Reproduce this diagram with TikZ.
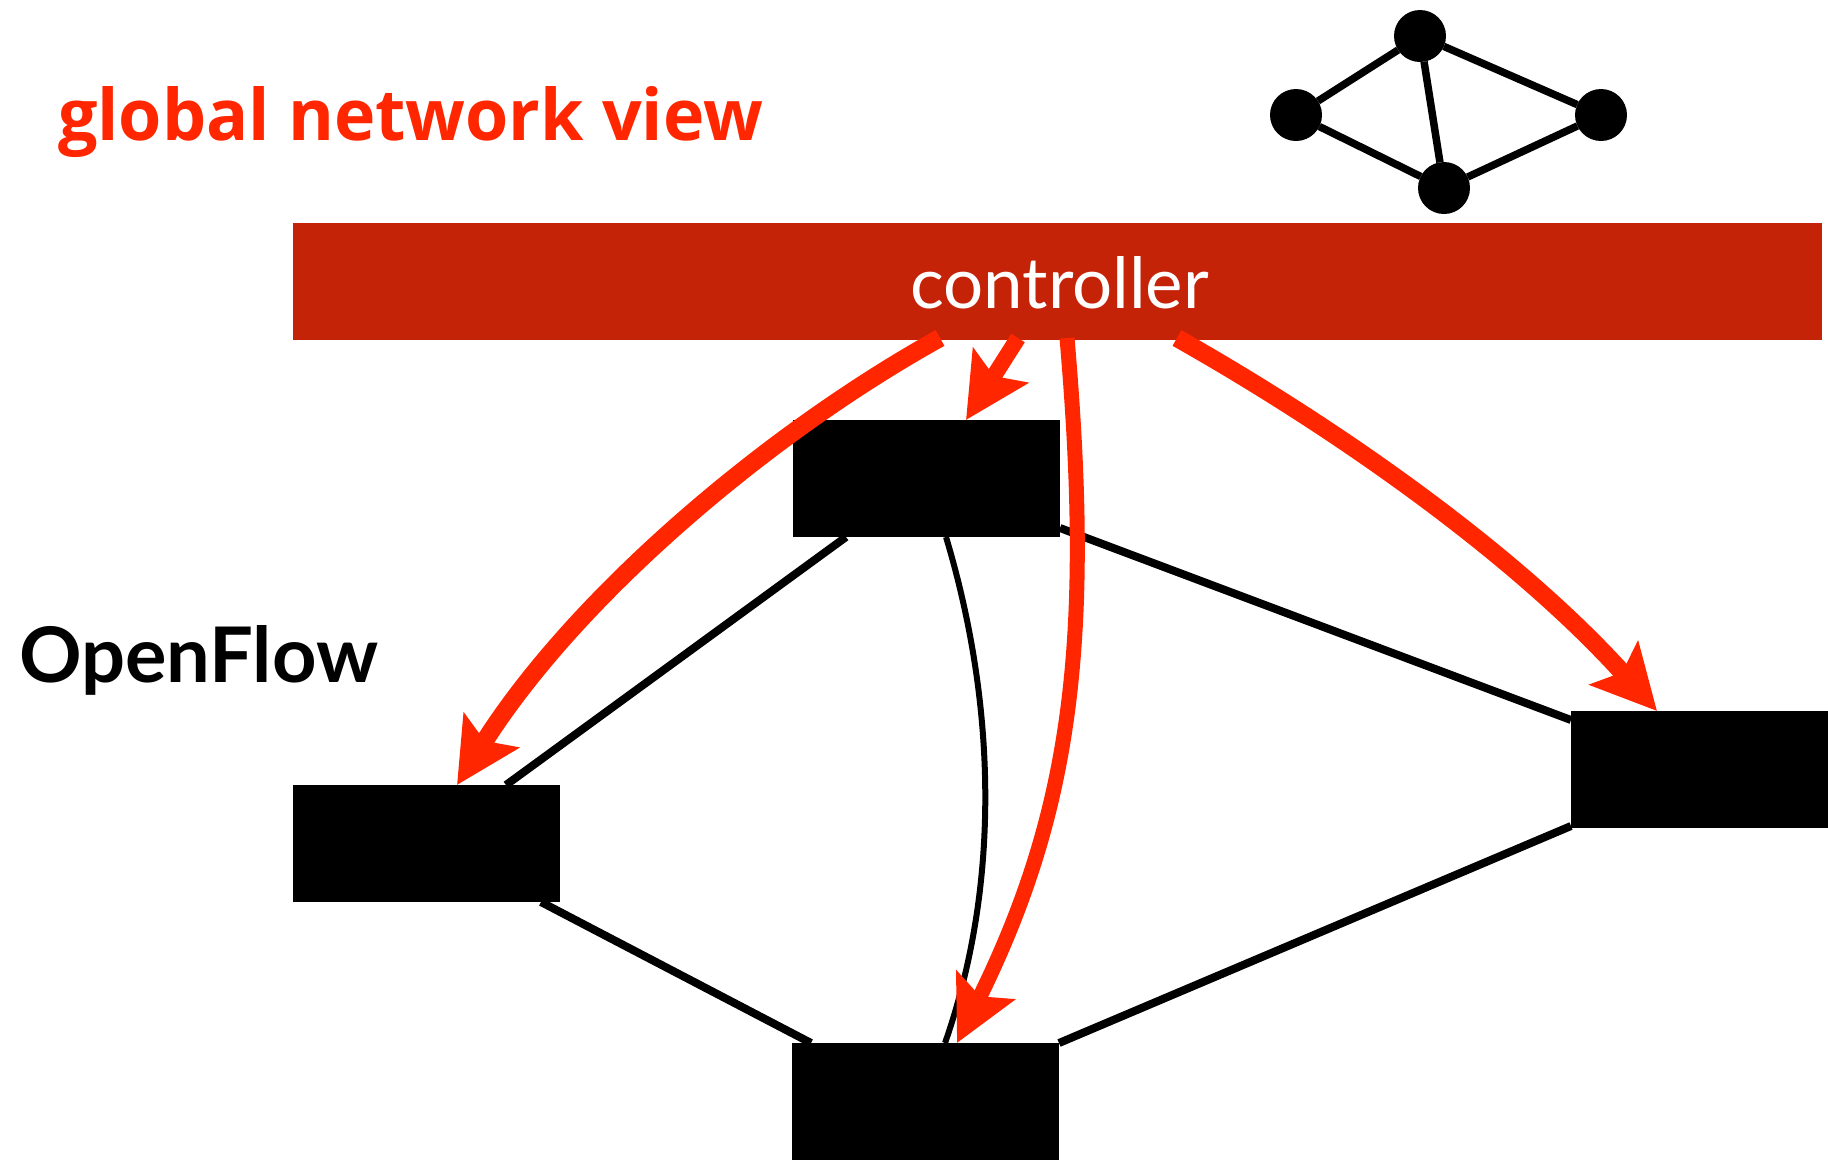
\documentclass[tikz,border=0pt]{standalone}
\usepackage{fontspec}
\setmainfont{Open Sans}
\newfontfamily\labelfont{Lato}
\usetikzlibrary{arrows.meta}

\definecolor{ctrlred}{RGB}{197,35,7}
\definecolor{flowred}{RGB}{255,38,0}

\tikzset{
  switchbox/.style={fill=black, draw=none, minimum width=267pt, minimum height=117pt,
    inner sep=0pt, outer sep=0pt, anchor=north west},
  dot/.style={circle, fill=black, minimum size=52pt, inner sep=0pt, outer sep=0pt},
  link/.style={line width=8pt, black},
  graphedge/.style={line width=7.5pt, black},
  ctrlarrow/.style={line width=18pt, flowred, -{Stealth[length=64pt,width=64pt,inset=12pt]}},
  label/.style={anchor=base west, inner sep=0pt, outer sep=0pt},
}

\begin{document}
\begin{tikzpicture}[x=1pt,y=-1pt]
\useasboundingbox (0,0) rectangle (1828,1160);
\clip (0,0) rectangle (1828,1160);
\fill[white] (0,0) rectangle (1828,1160);

% headings
\node[label, text=flowred, font=\bfseries] (gnv) at (58,140)
  {\resizebox{705pt}{54pt}{global network view}};
\node[label, text=black, font=\labelfont\bfseries] (of) at (19,682)
  {\resizebox{359pt}{57pt}{OpenFlow}};

% small topology icon
\node[dot] (g1) at (1420,36) {};
\node[dot] (g2) at (1296,115) {};
\node[dot] (g3) at (1601,115) {};
\node[dot] (g4) at (1444,188) {};
\draw[graphedge] (g1) -- (g2) (g1) -- (g3) (g2) -- (g4) (g3) -- (g4) (g1) -- (g4);

% controller bar
\node[fill=ctrlred, minimum width=1529pt, minimum height=117pt, inner sep=0pt,
      outer sep=0pt, anchor=north west] (ctrl) at (293,223) {};
\node[label, text=white, font=\labelfont] (ctrltext) at (910,308)
  {\resizebox{299pt}{52pt}{controller}};

% switches
\node[switchbox] (s1) at (793,420) {};
\node[switchbox] (s2) at (293,785) {};
\node[switchbox] (s3) at (792,1043) {};
\node[switchbox] (s4) at (1571,711) {};

% data-plane links
\draw[link] ([xshift=53pt]s1.south west) -- ([xshift=213pt]s2.north west);
\draw[link] ([yshift=9pt]s1.south east) -- ([yshift=-9pt]s4.north west);
\draw[link] ([xshift=-19pt]s2.south east) -- ([xshift=19pt]s3.north west);
\draw[link] ([yshift=2pt]s4.south west) -- (s3.north east);
\draw[line width=6pt] ([xshift=153pt]s1.south west)
  .. controls (995,700) and (1002,880) .. ([xshift=153pt]s3.north west);

% control channels
\coordinate (cL) at ([xshift=647pt,yshift=2pt]ctrl.south west);
\coordinate (cS) at ([xshift=725pt,yshift=2pt]ctrl.south west);
\coordinate (cM) at ([xshift=774pt,yshift=2pt]ctrl.south west);
\coordinate (cR) at ([xshift=884pt,yshift=2pt]ctrl.south west);
\coordinate (tL) at ([xshift=164pt]s2.north west);
\coordinate (tS) at ([xshift=173pt]s1.north west);
\coordinate (tM) at ([xshift=165pt]s3.north west);
\coordinate (tR) at ([xshift=86pt]s4.north west);

\draw[ctrlarrow] (cL) .. controls (765,435) and (574,599) .. (tL);
\draw[ctrlarrow, line width=16pt] (cS) -- (tS);
\draw[ctrlarrow, line width=15pt] (cM) .. controls (1093,640) and (1072,810) .. (tM);
\draw[ctrlarrow] (cR) .. controls (1352,437) and (1523,562) .. (tR);
\end{tikzpicture}
\end{document}
